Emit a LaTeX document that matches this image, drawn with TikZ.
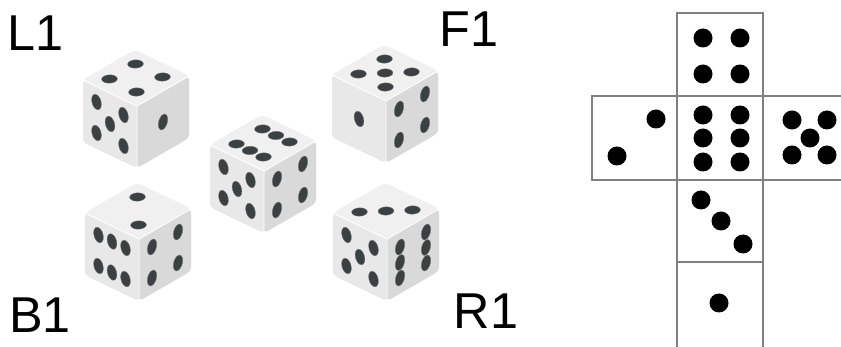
\documentclass[tikz,border=0pt]{standalone}
\usepackage{fontspec}
\setmainfont{Liberation Sans}
\definecolor{pipgray}{HTML}{3B4042}
\tikzset{
  topface/.style={fill=black!6, rounded corners=3pt},
  leftface/.style={fill=black!9, rounded corners=3pt},
  rightface/.style={fill=black!15, rounded corners=3pt},
  pip/.style={fill=pipgray, draw=black!55, line width=0.3pt},
  netbox/.style={draw=black!50, line width=1.1pt},
  netpip/.style={fill=black},
  dicelabel/.style={font=\fontsize{43pt}{48pt}\selectfont, inner sep=0pt}
}
% one die: top corner at (#1,#2), pips of top, left and right face
\newcommand{\drawdie}[5]{%
  \begin{scope}[shift={(#1,#2)}]
    \fill[black!13, rounded corners=6pt] (0,0) -- (54,26) -- (54,88) -- (2,118) -- (-52,92) -- (-52,30) -- cycle;
    \begin{scope}[shift={(-52,30)}, x={(1.62cm,-0.78cm)}, y={(1.56cm,0.90cm)}]
      \fill[topface] (0,0) -- (1,0) -- (1,1) -- (0,1) -- cycle;
      \foreach \u/\v in {#3} \filldraw[pip] (\u,\v) circle[radius=0.105];
    \end{scope}
    \begin{scope}[shift={(-52,30)}, x={(1.62cm,-0.78cm)}, y={(0cm,-1.86cm)}]
      \fill[leftface] (0,0) -- (1,0) -- (1,1) -- (0,1) -- cycle;
      \foreach \u/\v in {#4} \filldraw[pip] (\u,\v) circle[x radius=0.09, y radius=0.12];
    \end{scope}
    \begin{scope}[shift={(2,56)}, x={(1.56cm,0.90cm)}, y={(0cm,-1.86cm)}]
      \fill[rightface] (0,0) -- (1,0) -- (1,1) -- (0,1) -- cycle;
      \foreach \u/\v in {#5} \filldraw[pip] (\u,\v) circle[x radius=0.09, y radius=0.12];
    \end{scope}
    \draw[white, line width=0.8pt] (-52,30) -- (2,56) -- (54,26) (2,56) -- (2,118);
  \end{scope}}
\begin{document}
\begin{tikzpicture}[x=0.03cm, y=-0.03cm]
  \useasboundingbox (0,0) rectangle (841,347);
  % labels
  \node[dicelabel] (l1) at (36,33) {L1};
  \node[dicelabel] (f1) at (469,29) {F1};
  \node[dicelabel] (b1) at (40,315) {B1};
  \node[dicelabel] (r1) at (486,311) {R1};
  % dice
  \drawdie{135}{50}{0.25/0.25,0.75/0.25,0.25/0.75,0.75/0.75}
    {0.25/0.25,0.75/0.25,0.5/0.5,0.25/0.75,0.75/0.75}{0.5/0.5}
  \drawdie{384}{45}{0.25/0.25,0.75/0.25,0.5/0.5,0.25/0.75,0.75/0.75}
    {0.5/0.5}{0.25/0.25,0.75/0.25,0.25/0.75,0.75/0.75}
  \drawdie{262}{115}{0.25/0.25,0.5/0.25,0.75/0.25,0.25/0.75,0.5/0.75,0.75/0.75}
    {0.25/0.25,0.75/0.25,0.5/0.5,0.25/0.75,0.75/0.75}{0.25/0.25,0.75/0.25,0.25/0.75,0.75/0.75}
  \drawdie{137}{183}{0.25/0.75,0.75/0.25}
    {0.25/0.25,0.5/0.25,0.75/0.25,0.25/0.75,0.5/0.75,0.75/0.75}{0.25/0.25,0.75/0.25,0.25/0.75,0.75/0.75}
  \drawdie{385}{183}{0.25/0.25,0.5/0.5,0.75/0.75}
    {0.25/0.25,0.75/0.25,0.5/0.5,0.25/0.75,0.75/0.75}{0.25/0.25,0.25/0.5,0.25/0.75,0.75/0.25,0.75/0.5,0.75/0.75}
  % net of the cube
  \draw[netbox] (677,347) -- (677,13) -- (763,13) -- (763,347);
  \draw[netbox] (592,96) rectangle (677,180);
  \draw[netbox] (677,96) -- (842,96) (677,180) -- (842,180);
  \draw[netbox] (763,96) -- (763,180) (677,262) -- (763,262);
  \foreach \x/\y in {703/38,740/38,703/74,740/74,656/119,617/156,
      703/115,740/115,703/138,740/138,703/162,740/162,
      792/120,827/120,810/138,792/155,827/155,
      701/200,721/221,743/244,719/303}
    \fill[netpip] (\x,\y) circle[radius=9.5];
\end{tikzpicture}
\end{document}
